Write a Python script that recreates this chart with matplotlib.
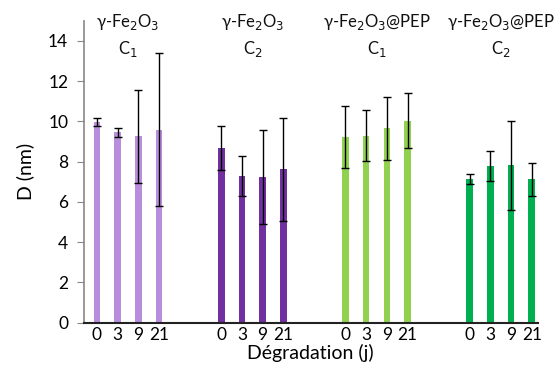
import matplotlib
matplotlib.use("Agg")
import matplotlib.pyplot as plt
import numpy as np

plt.rcParams['font.family'] = ['Lato', 'DejaVu Sans']

days = ["0", "3", "9", "21"]
groups = ["γ-Fe$_2$O$_3$\nC$_1$", "γ-Fe$_2$O$_3$\nC$_2$",
          "γ-Fe$_2$O$_3$@PEP\nC$_1$", "γ-Fe$_2$O$_3$@PEP\nC$_2$"]
values = [
    [9.97, 9.46, 9.25, 9.58],
    [8.67, 7.28, 7.23, 7.61],
    [9.21, 9.28, 9.66, 10.04],
    [7.13, 7.76, 7.81, 7.13],
]
errors = [
    [0.22, 0.23, 2.3, 3.8],
    [1.08, 1.0, 2.32, 2.55],
    [1.55, 1.27, 1.57, 1.36],
    [0.24, 0.75, 2.2, 0.82],
]
colors = ["#B88EDC", "#7030A0", "#92D050", "#00B050"]

fig = plt.figure(figsize=(5.55, 3.71), dpi=100)
ax = fig.add_axes([0.1505, 0.1307, 0.8189, 0.8133])

xticks, xlabels = [], []
for g in range(4):
    pos = np.arange(4) + g * 6
    ax.bar(pos, values[g], width=0.32, color=colors[g], zorder=2)
    ax.errorbar(pos, values[g], yerr=errors[g], fmt='none', ecolor='black',
                elinewidth=1.0, capsize=3, capthick=1.0, zorder=3)
    xticks.extend(pos)
    xlabels.extend(days)
    ax.text(pos.mean(), 14.25, groups[g], ha='center', va='center',
            fontsize=12, linespacing=1.45, color='#111111')

ax.set_xlim(-0.65, 21.3)
ax.set_ylim(0, 15)
ax.set_yticks(np.arange(0, 15, 2))
ax.set_xticks(xticks)
ax.set_xticklabels(xlabels, fontsize=12.5)
ax.tick_params(axis='x', length=0, pad=3)
ax.tick_params(axis='y', labelsize=12.5, length=5, pad=6, color='#888888', direction='out')

for s in ['top', 'right']:
    ax.spines[s].set_visible(False)
ax.spines['left'].set_color('#888888')
ax.spines['left'].set_linewidth(1.2)
ax.spines['bottom'].set_color('#222222')
ax.spines['bottom'].set_linewidth(1.5)

ax.set_ylabel("D (nm)", fontsize=14, labelpad=10)
ax.set_xlabel("Dégradation (j)", fontsize=14, labelpad=1)

fig.savefig("out.png", dpi=100)
